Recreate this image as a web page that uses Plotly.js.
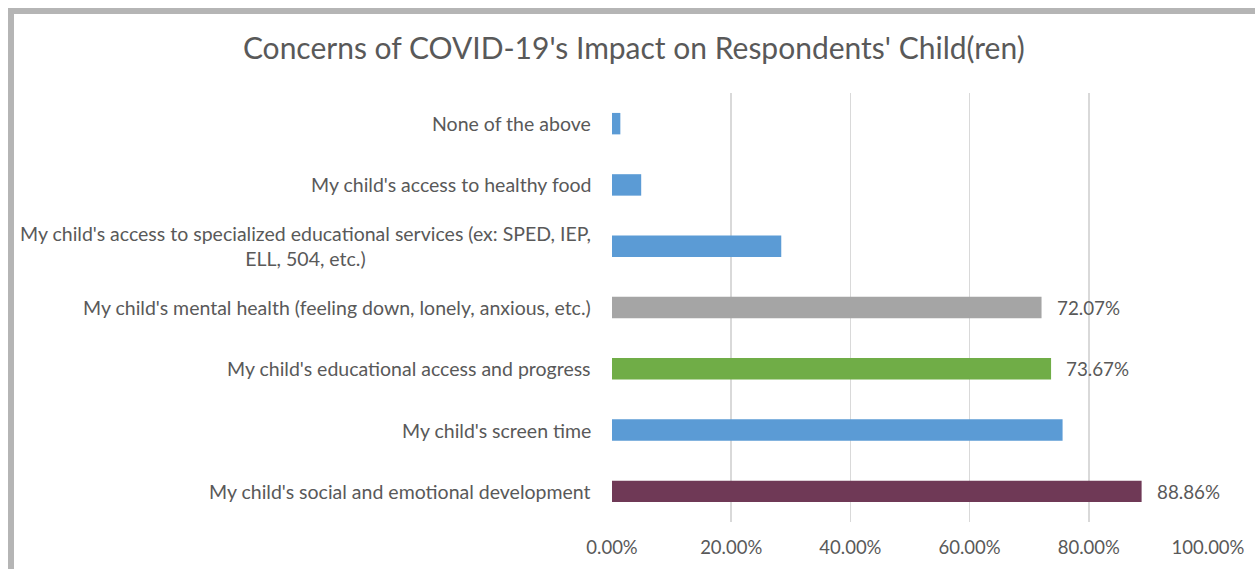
<!DOCTYPE html>
<html>
<head>
<meta charset="utf-8">
<script src="https://cdn.plot.ly/plotly-3.0.1.min.js"></script>
<style>
  html, body { margin: 0; padding: 0; background: #fff; overflow: hidden; }
  #chart { position: absolute; left: 0; top: 0; width: 1255px; height: 569px; }
  #frame { position: absolute; left: 8px; top: 8px; width: 1400px; height: 700px;
           border-left: 6px solid #b5b5b5; border-top: 6px solid #b5b5b5; pointer-events: none; }
</style>
</head>
<body>
<div id="chart"></div>
<div id="frame"></div>
<script>
// Categories, top to bottom as in the reference
const categories = [
  "None of the above",
  "My child's access to healthy food",
  "My child's access to specialized educational services (ex: SPED, IEP,<br>ELL, 504, etc.)",
  "My child's mental health (feeling down, lonely, anxious, etc.)",
  "My child's educational access and progress",
  "My child's screen time",
  "My child's social and emotional development"
];
const values = [0.014, 0.049, 0.284, 0.7207, 0.7367, 0.756, 0.8886];
const valueLabels = ["", "", "", "72.07%", "73.67%", "", "88.86%"];
const barColors = ["#5b9bd5", "#5b9bd5", "#5b9bd5", "#a5a5a5", "#70ad47", "#5b9bd5", "#6f3956"];
const tickValues = [0, 0.2, 0.4, 0.6, 0.8, 1.0];
const tickLabels = ["0.00%", "20.00%", "40.00%", "60.00%", "80.00%", "100.00%"];

const FONT = "Lato, 'Open Sans', sans-serif";
const TXT = "#595959";

const trace = {
  type: "bar",
  orientation: "h",
  y: categories,
  x: values,
  marker: { color: barColors },
  width: 0.35,
  hoverinfo: "none"
};

const annotations = [];
categories.forEach((c, i) => {
  annotations.push({
    xref: "paper", yref: "y", x: 0, y: c, xanchor: "right", yanchor: "middle",
    xshift: -19, text: c, align: "center", showarrow: false,
    font: { family: FONT, size: 19.5, color: TXT }
  });
  if (valueLabels[i]) {
    annotations.push({
      xref: "x", yref: "y", x: values[i], y: c, xanchor: "left", yanchor: "middle",
      xshift: 13, text: valueLabels[i], showarrow: false,
      font: { family: FONT, size: 18.8, color: TXT }
    });
  }
});

const layout = {
  width: 1255, height: 569,
  paper_bgcolor: "#ffffff", plot_bgcolor: "#ffffff",
  margin: { l: 612, r: 47, t: 93, b: 47, pad: 0 },
  title: {
    text: "Concerns of COVID-19's Impact on Respondents' Child(ren)",
    xref: "container", x: 0.505, xanchor: "center",
    yref: "container", y: 1 - 48 / 569, yanchor: "middle",
    font: { family: FONT, size: 30, color: TXT }
  },
  xaxis: {
    range: [0, 1], tickvals: tickValues, ticktext: tickLabels,
    showgrid: true, gridcolor: "#d9d9d9", gridwidth: 1.5,
    zeroline: false, showline: false, ticks: "",
    ticklabelstandoff: 12,
    tickfont: { family: FONT, size: 18.5, color: TXT },
    fixedrange: true
  },
  yaxis: {
    autorange: "reversed", showticklabels: false, showgrid: false,
    zeroline: false, showline: false, ticks: "", fixedrange: true
  },
  showlegend: false,
  annotations: annotations,
  font: { family: FONT, color: TXT }
};

Plotly.newPlot("chart", [trace], layout, { displayModeBar: false, staticPlot: true });
</script>
</body>
</html>
